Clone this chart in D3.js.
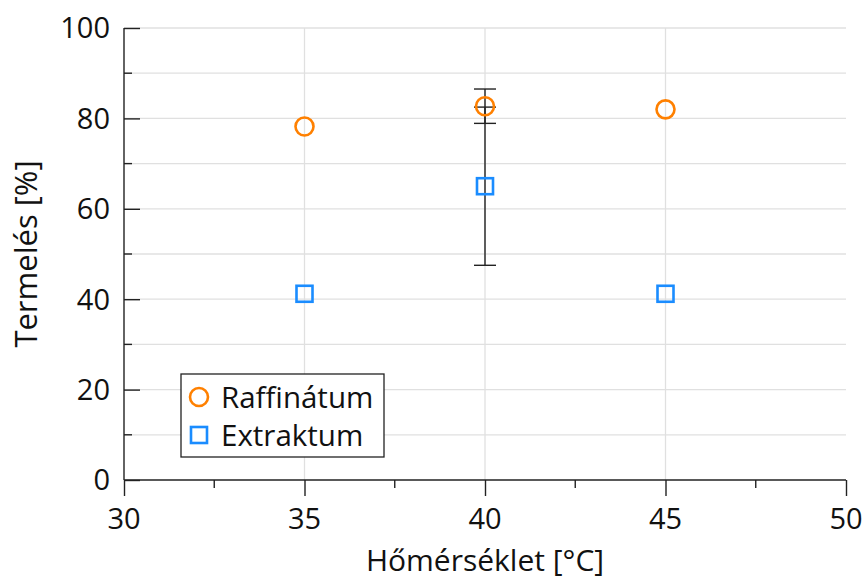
<!DOCTYPE html>
<html>
<head>
<meta charset="utf-8">
<script src="https://cdn.jsdelivr.net/npm/d3@7"></script>
<style>
  body { margin: 0; background: #fff; }
  text { font-family: "Open Sans", "DejaVu Sans", sans-serif; fill: #111; }
</style>
</head>
<body>
<svg id="chart" width="866" height="579"></svg>
<script>
// data
const temps = [35, 40, 45];
const raffinatum = [78.2, 82.7, 82.0];
const extraktum = [41.2, 65.0, 41.2];
const raffErr = [null, 3.8, null];
const extrErr = [null, 17.5, null];
const xTicks = [30, 35, 40, 45, 50];
const xMinor = [32.5, 37.5, 42.5, 47.5];
const yTicks = [0, 20, 40, 60, 80, 100];
const yMinor = [10, 30, 50, 70, 90];
const seriesNames = ['Raffinátum', 'Extraktum'];
const colors = ['#ff8000', '#1a8cff'];

const margin = { left: 124, right: 20, top: 28, bottom: 99 };
const width = 866, height = 579;

const svg = d3.select('#chart');

const x = d3.scaleLinear().domain([30, 50]).range([margin.left, width - margin.right]);
const y = d3.scaleLinear().domain([0, 100]).range([height - margin.bottom, margin.top]);

const grid = svg.append('g').attr('stroke', '#e0e0e0').attr('stroke-width', 1.3);

// horizontal grid at every 10
grid.selectAll('line.h')
    .data(yTicks.concat(yMinor).filter(d => d > 0))
    .join('line')
    .attr('x1', x(30)).attr('x2', x(50))
    .attr('y1', d => y(d)).attr('y2', d => y(d));

// vertical grid at inner major ticks
grid.selectAll('line.v')
    .data(xTicks.filter(d => d > 30 && d < 50))
    .join('line')
    .attr('x1', d => x(d)).attr('x2', d => x(d))
    .attr('y1', y(0)).attr('y2', y(100));

const axisColor = '#222';

// y axis: ticks point inward
const yAxis = svg.append('g')
    .attr('transform', `translate(${x(30)},0)`)
    .call(d3.axisRight(y).tickValues(yTicks).tickSize(16).tickFormat(''));
yAxis.select('.domain').remove();
yAxis.selectAll('line').attr('stroke', axisColor).attr('stroke-width', 1.4);
yAxis.selectAll('.minor')
    .data(yMinor)
    .join('line')
    .attr('class', 'minor')
    .attr('x1', 0).attr('x2', 8)
    .attr('y1', d => y(d)).attr('y2', d => y(d))
    .attr('stroke', axisColor).attr('stroke-width', 1.4);

svg.append('g').selectAll('text')
    .data(yTicks)
    .join('text')
    .attr('x', x(30) - 14)
    .attr('y', d => y(d))
    .attr('dy', '0.36em')
    .attr('text-anchor', 'end')
    .attr('font-size', 29)
    .text(d => d);

// x axis: ticks point outward
const xAxis = svg.append('g')
    .attr('transform', `translate(0,${y(0)})`)
    .call(d3.axisBottom(x).tickValues(xTicks).tickSize(16).tickFormat(''));
xAxis.select('.domain').remove();
xAxis.selectAll('line').attr('stroke', axisColor).attr('stroke-width', 1.4);
xAxis.selectAll('.minor')
    .data(xMinor)
    .join('line')
    .attr('class', 'minor')
    .attr('x1', d => x(d)).attr('x2', d => x(d))
    .attr('y1', 0).attr('y2', 8)
    .attr('stroke', axisColor).attr('stroke-width', 1.4);

svg.append('g').selectAll('text')
    .data(xTicks)
    .join('text')
    .attr('x', d => x(d))
    .attr('y', y(0) + 49)
    .attr('text-anchor', 'middle')
    .attr('font-size', 29)
    .text(d => d);

// spines
svg.append('line')
    .attr('x1', x(30)).attr('x2', x(30))
    .attr('y1', y(100)).attr('y2', y(0))
    .attr('stroke', axisColor).attr('stroke-width', 1.4);
svg.append('line')
    .attr('x1', x(30)).attr('x2', x(50))
    .attr('y1', y(0)).attr('y2', y(0))
    .attr('stroke', axisColor).attr('stroke-width', 1.4);

// axis titles
svg.append('text')
    .attr('x', (x(30) + x(50)) / 2)
    .attr('y', 571)
    .attr('text-anchor', 'middle')
    .attr('font-size', 30)
    .text('Hőmérséklet [°C]');

svg.append('text')
    .attr('transform', `translate(37,${(y(0) + y(100)) / 2}) rotate(-90)`)
    .attr('text-anchor', 'middle')
    .attr('font-size', 31)
    .text('Termelés [%]');

// error bars
const errData = [];
temps.forEach((t, i) => {
    if (raffErr[i] != null) errData.push({ t, v: raffinatum[i], e: raffErr[i] });
    if (extrErr[i] != null) errData.push({ t, v: extraktum[i], e: extrErr[i] });
});
const eb = svg.append('g').attr('stroke', '#222').attr('stroke-width', 1.4);
errData.forEach(d => {
    eb.append('line')
        .attr('x1', x(d.t)).attr('x2', x(d.t))
        .attr('y1', y(d.v - d.e)).attr('y2', y(d.v + d.e));
    [d.v - d.e, d.v + d.e].forEach(v => {
        eb.append('line')
            .attr('x1', x(d.t) - 11).attr('x2', x(d.t) + 11)
            .attr('y1', y(v)).attr('y2', y(v));
    });
});

// markers
svg.append('g').selectAll('circle')
    .data(temps.map((t, i) => ({ t, v: raffinatum[i] })))
    .join('circle')
    .attr('cx', d => x(d.t))
    .attr('cy', d => y(d.v))
    .attr('r', 9)
    .attr('fill', 'none')
    .attr('stroke', colors[0])
    .attr('stroke-width', 2.6);

svg.append('g').selectAll('rect')
    .data(temps.map((t, i) => ({ t, v: extraktum[i] })))
    .join('rect')
    .attr('x', d => x(d.t) - 8)
    .attr('y', d => y(d.v) - 8)
    .attr('width', 16)
    .attr('height', 16)
    .attr('fill', 'none')
    .attr('stroke', colors[1])
    .attr('stroke-width', 2.6);

// legend
const legend = svg.append('g').attr('transform', 'translate(181,374)');
legend.append('rect')
    .attr('width', 203).attr('height', 83)
    .attr('fill', '#fff')
    .attr('stroke', '#222').attr('stroke-width', 1.3);
legend.append('circle')
    .attr('cx', 18).attr('cy', 23).attr('r', 9)
    .attr('fill', 'none').attr('stroke', colors[0]).attr('stroke-width', 2.6);
legend.append('rect')
    .attr('x', 10).attr('y', 53).attr('width', 16).attr('height', 16)
    .attr('fill', 'none').attr('stroke', colors[1]).attr('stroke-width', 2.6);
legend.selectAll('text')
    .data(seriesNames)
    .join('text')
    .attr('x', 40)
    .attr('y', (d, i) => 23 + i * 38)
    .attr('dy', '0.36em')
    .attr('font-size', 29.5)
    .text(d => d);
</script>
</body>
</html>
